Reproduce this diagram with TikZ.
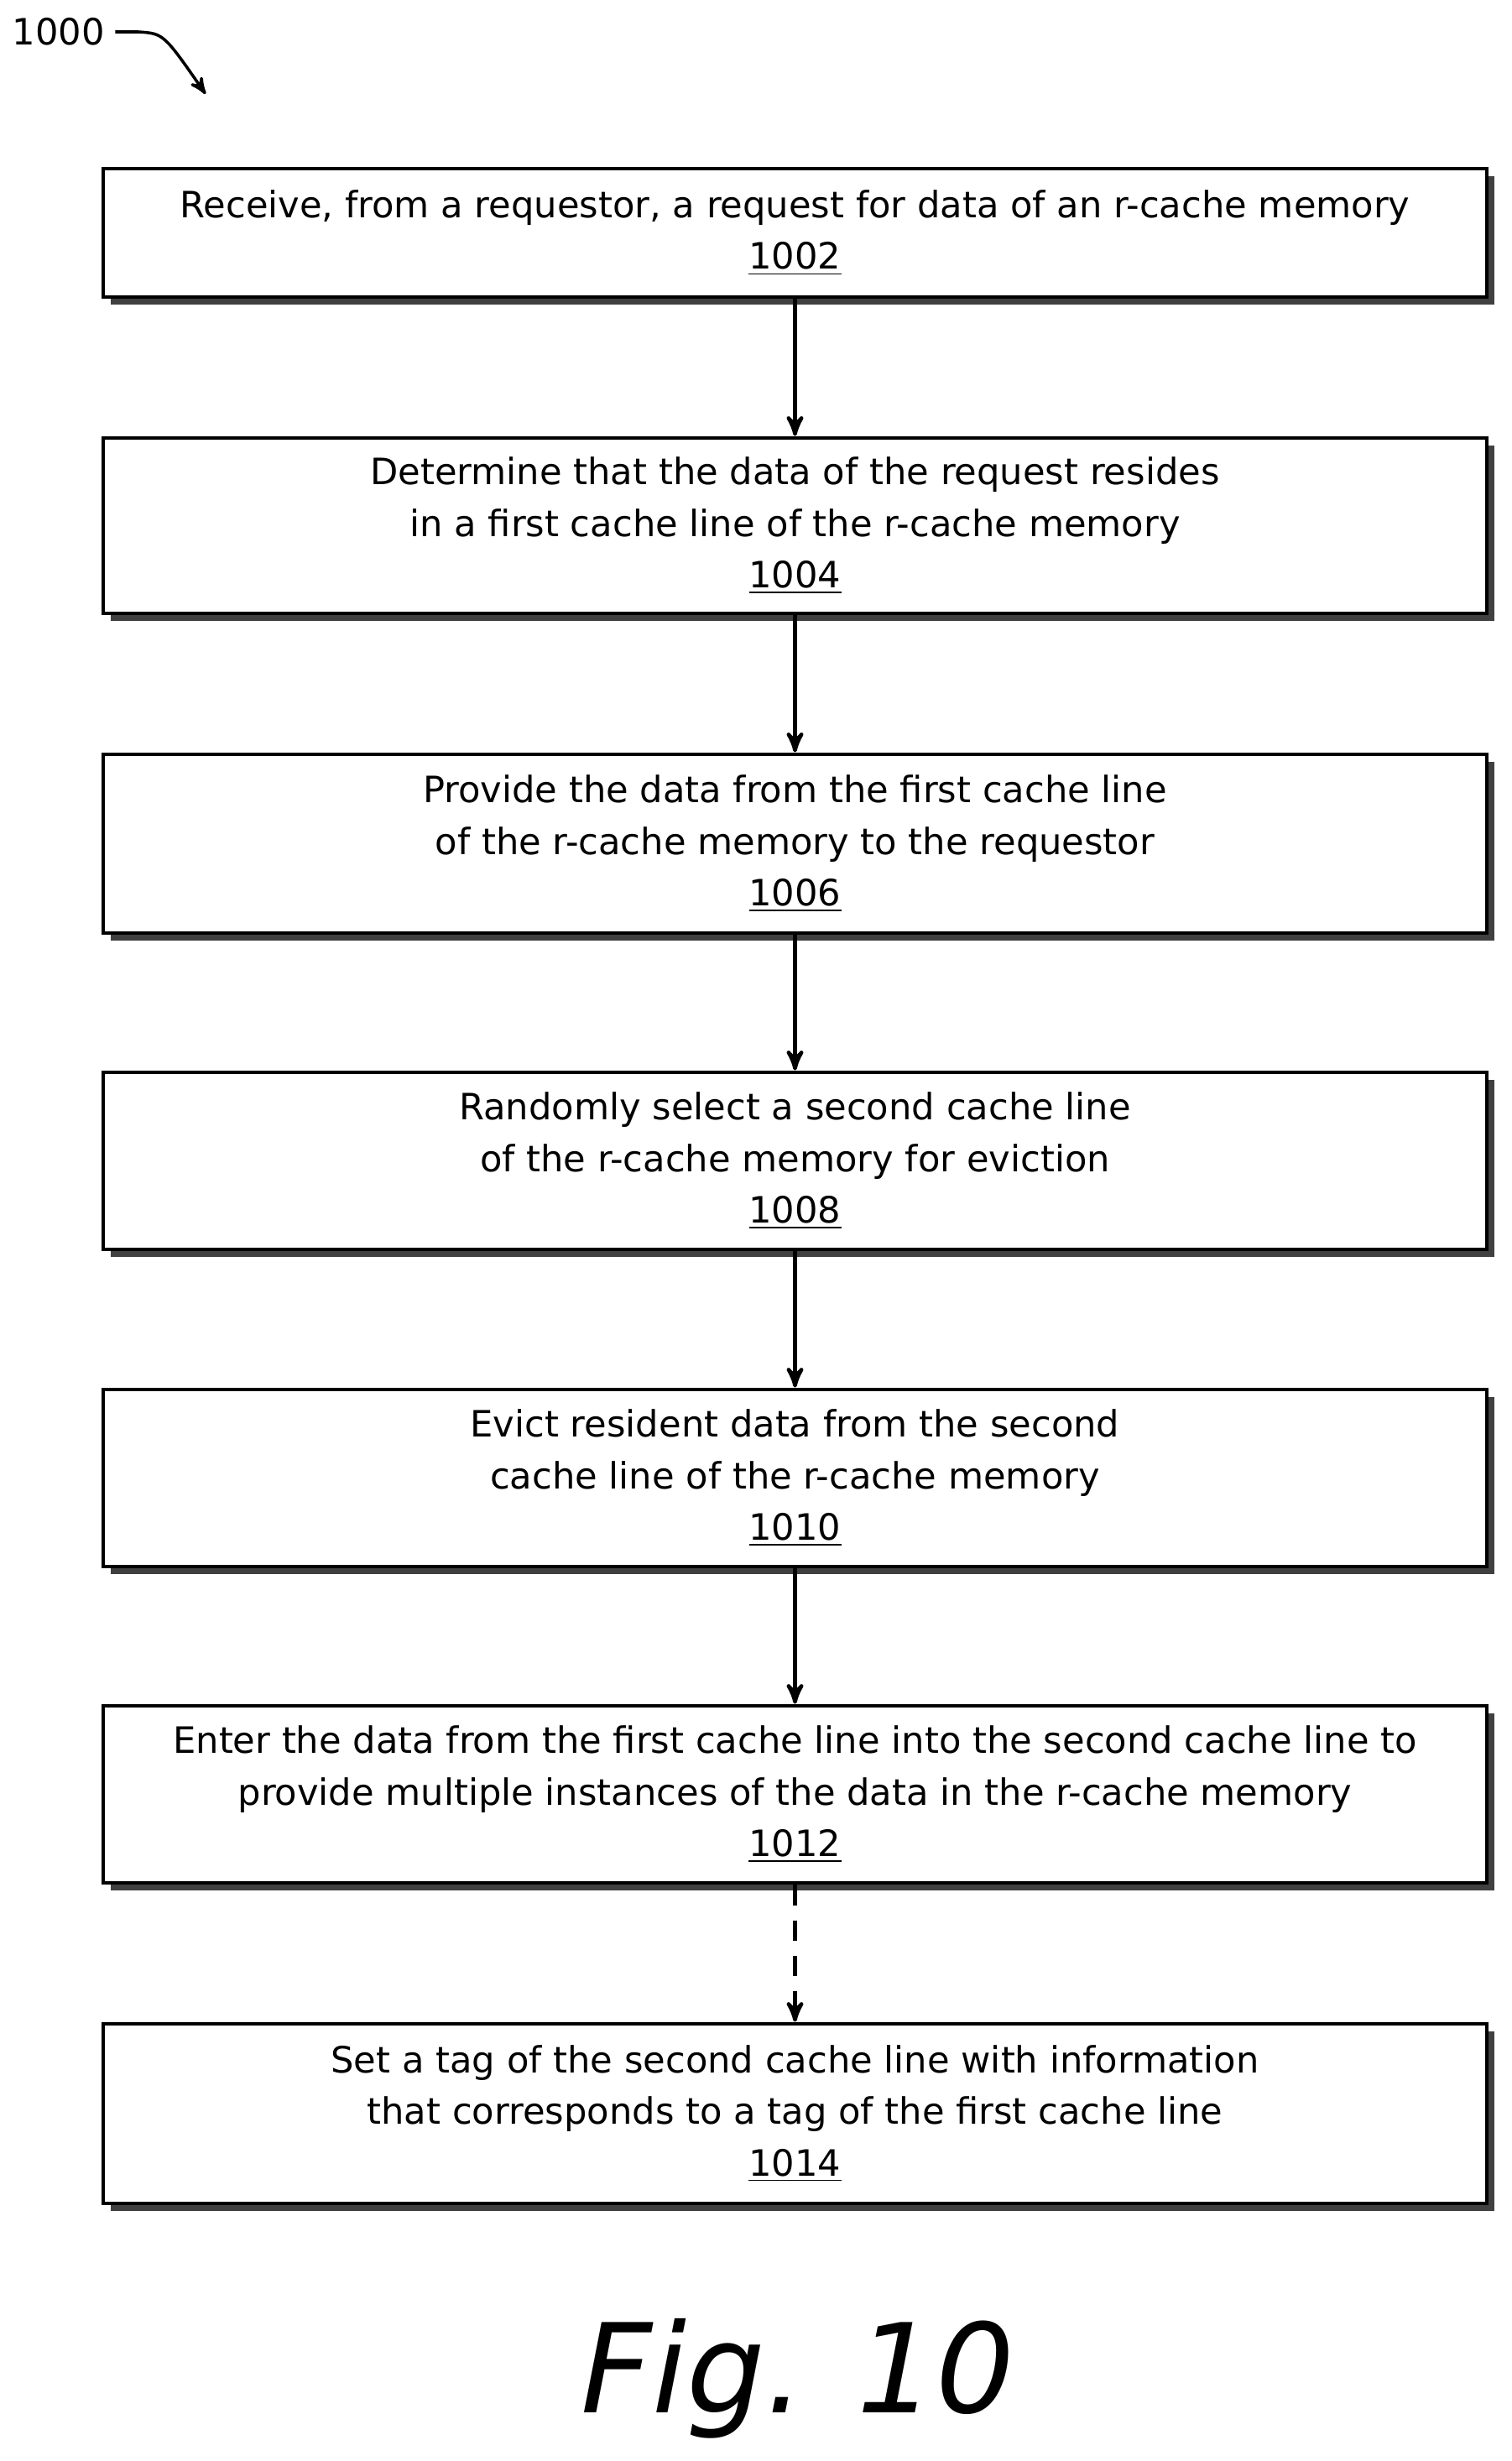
\documentclass[tikz,border=0pt]{standalone}
\usepackage{fontspec}
\setmainfont{DejaVu Sans}
\setsansfont{DejaVu Sans}
\usetikzlibrary{arrows,shadows,positioning,calc}
\begin{document}
\begin{tikzpicture}
[x=1cm,y=-1cm,
 procbox/.style={draw,fill=white,line width=1.4pt,minimum width=16.49cm,align=center,
   font=\fontsize{12.3}{17.5}\selectfont,
   drop shadow={shadow xshift=2.5pt,shadow yshift=-2.5pt,fill=black!75,opacity=1}},
 flow/.style={line width=1.3pt,-stealth'}]
\useasboundingbox (0,0) rectangle (18.02,29.33);
%% steps
\node[procbox,minimum height=1.53cm] (s1002) at (9.475,2.775) {Receive, from a requestor, a request for data of an r-cache memory\\\underline{1002}};
\node[procbox,minimum height=2.09cm] (s1004) at (9.475,6.265) {Determine that the data of the request resides\\in a first cache line of the r-cache memory\\\underline{1004}};
\node[procbox,minimum height=2.13cm] (s1006) at (9.475,10.055) {Provide the data from the first cache line\\of the r-cache memory to the requestor\\\underline{1006}};
\node[procbox,minimum height=2.11cm] (s1008) at (9.475,13.835) {Randomly select a second cache line\\of the r-cache memory for eviction\\\underline{1008}};
\node[procbox,minimum height=2.11cm] (s1010) at (9.475,17.615) {Evict resident data from the second\\cache line of the r-cache memory\\\underline{1010}};
\node[procbox,minimum height=2.11cm] (s1012) at (9.475,21.385) {Enter the data from the first cache line into the second cache line to\\provide multiple instances of the data in the r-cache memory\\\underline{1012}};
\node[procbox,minimum height=2.14cm] (s1014) at (9.475,25.19) {Set a tag of the second cache line with information\\that corresponds to a tag of the first cache line\\\underline{1014}};
%% edges
\draw[flow] (s1002) -- (s1004);
\draw[flow] (s1004) -- (s1006);
\draw[flow] (s1006) -- (s1008);
\draw[flow] (s1008) -- (s1010);
\draw[flow] (s1010) -- (s1012);
\draw[flow,dash pattern=on 7pt off 5pt] (s1012) -- (s1014);
%% label
\node[font=\fontsize{12.3}{15}\selectfont] (ref) at (0.7,0.38) {1000};
\coordinate (refend) at (2.45,1.12);
\draw[line width=1pt,-stealth'] (ref.east) -- (1.65,0.38) .. controls (1.95,0.4) .. (refend);
\node[font=\fontsize{42}{50}\selectfont\itshape] (fig) at (9.51,28.35) {Fig. 10};
\end{tikzpicture}
\end{document}
